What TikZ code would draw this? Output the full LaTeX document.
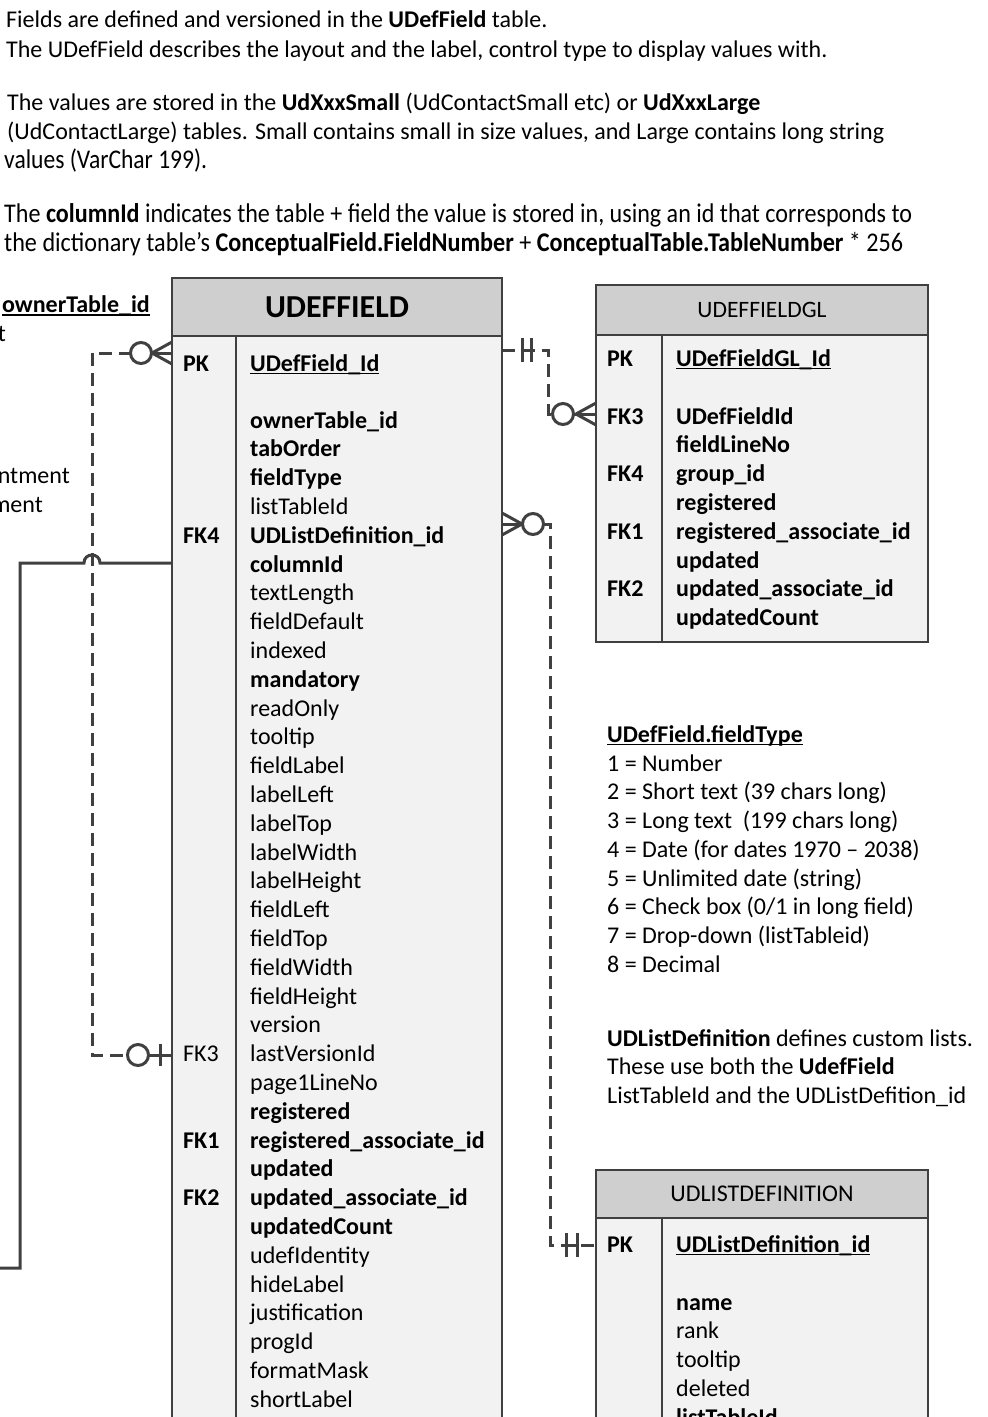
\documentclass[tikz,border=0pt]{standalone}
\usepackage{fontspec}
\setmainfont{Carlito}
\usepackage{graphicx}
\usetikzlibrary{calc}
\definecolor{ink}{HTML}{404040}
\definecolor{headfill}{HTML}{CFCFCF}
\definecolor{bodyfill}{HTML}{F2F2F2}
\newcommand\bodyfont{\fontsize{24}{28}\selectfont}
\newcommand\bigfont{\fontsize{32}{38}\selectfont}
\newcommand\glfont{\fontsize{23.5}{28}\selectfont}
\newcommand\tallfont{\fontsize{27}{32}\selectfont}
% underline sitting close under the baseline
\newcommand\myul[1]{\setbox0\hbox{#1}\rlap{\rule[-3.4pt]{\wd0}{1.7pt}}\box0}
% narrow a line of text to a given width, keeping its height
\newcommand\squeeze[2]{\resizebox{#1}{\height}{#2}}
\begin{document}
\begin{tikzpicture}[x=1pt,y=-1pt,
  txt/.style={anchor=base west, inner sep=0pt, font=\bodyfont, text=black},
  rtxt/.style={anchor=base east, inner sep=0pt, font=\bodyfont, text=black},
  frame/.style={draw=ink, line width=2.4pt, anchor=north west, inner sep=0pt, outer sep=0pt},
  tbody/.style={frame, fill=bodyfill},
  thead/.style={frame, fill=headfill, font=\glfont, text=black},
  sep/.style={draw=ink, line width=2.4pt},
  rel/.style={draw=ink, line width=3pt},
  reldash/.style={rel, dash pattern=on 13pt off 7pt},
  foot/.style={draw=ink, line width=3pt},
  ring/.style={circle, draw=ink, fill=white, line width=3pt, minimum size=21pt, inner sep=0pt}]
\useasboundingbox (0,0) rectangle (988,1417);
\clip (0,0) rectangle (988,1417);

% ---------- notes at the top ----------
\node[txt] (n1) at (6,27.5) {Fields are defined and versioned in the \textbf{UDefField} table.};
\node[txt] (n2) at (6,57) {The UDefField describes the layout and the label, control type to display values with.};
\node[txt] (n3) at (7,110) {The values are stored in the \textbf{UdXxxSmall} (UdContactSmall etc) or \textbf{UdXxxLarge}};
\node[txt] (n4) at (7,139) {(UdContactLarge) tables. Small contains small in size values, and Large contains long string};
\node[txt, font=\tallfont] (n5) at (4,168.5) {\squeeze{203pt}{values (VarChar 199).}};
\node[txt, font=\tallfont] (n6) at (4,222.5) {\squeeze{908pt}{The \textbf{columnId} indicates the table + field the value is stored in, using an id that corresponds to}};
\node[txt, font=\tallfont] (n7) at (4,251) {\squeeze{899pt}{the dictionary table’s \textbf{ConceptualField.FieldNumber} + \textbf{ConceptualTable.TableNumber} * 256}};

% ---------- fragments of a table further left ----------
\node[rtxt, font=\bodyfont\bfseries] (fragA) at (150,312.5) {\myul{ownerTable\_id}};
\node[rtxt] (fragB) at (6,341.5) {t};
\node[rtxt] (fragC) at (70,483.5) {ntment};
\node[rtxt] (fragD) at (43,512.5) {ment};

% ---------- UDEFFIELD ----------
\node[tbody, minimum width=330pt, minimum height=1180pt] (uf) at (172,278) {};
\node[thead, minimum width=330pt, minimum height=58pt, font=\bigfont\bfseries] (ufh) at (172,278) {UDEFFIELD};
\draw[sep] (236,336) -- (236,1460);

\node[txt, font=\bodyfont\bfseries] (ufkPK) at (183,371) {PK};
\node[txt, font=\bodyfont\bfseries] (ufPK) at (250,371) {\myul{UDefField\_Id}};
\foreach \t [count=\i from 0] in {
  \textbf{ownerTable\_id}, \textbf{tabOrder}, \textbf{fieldType}, listTableId,
  \textbf{UDListDefinition\_id}, \textbf{columnId}, textLength, fieldDefault,
  indexed, \textbf{mandatory}, readOnly, tooltip, fieldLabel, labelLeft,
  labelTop, labelWidth, labelHeight, fieldLeft, fieldTop, fieldWidth,
  fieldHeight, version, lastVersionId, page1LineNo, \textbf{registered},
  \textbf{registered\_associate\_id}, \textbf{updated},
  \textbf{updated\_associate\_id}, \textbf{updatedCount}, udefIdentity,
  hideLabel, justification, progId, formatMask, shortLabel}
  \node[txt] (uf-\i) at (250,428+28.8*\i) {\t};
\node[txt, font=\bodyfont\bfseries] (ufkFK4) at (183,543.2) {FK4};
\node[txt] (ufkFK3) at (183,1061.6) {FK3};
\node[txt, font=\bodyfont\bfseries] (ufkFK1) at (183,1148) {FK1};
\node[txt, font=\bodyfont\bfseries] (ufkFK2) at (183,1205.6) {FK2};

% ---------- UDEFFIELDGL ----------
\node[tbody, minimum width=332pt, minimum height=357pt] (gl) at (596,285) {};
\node[thead, minimum width=332pt, minimum height=50pt] (glh) at (596,285) {UDEFFIELDGL};
\draw[sep] (662,335) -- (662,642);
\node[txt, font=\bodyfont\bfseries] (glkPK) at (607,366) {PK};
\node[txt, font=\bodyfont\bfseries] (glPK) at (676,366) {\myul{UDefFieldGL\_Id}};
\foreach \t [count=\i from 0] in {UDefFieldId, fieldLineNo, group\_id, registered,
  registered\_associate\_id, updated, updated\_associate\_id, updatedCount}
  \node[txt, font=\bodyfont\bfseries] (gl-\i) at (676,424+28.8*\i) {\t};
\node[txt, font=\bodyfont\bfseries] (glkFK3) at (607,424) {FK3};
\node[txt, font=\bodyfont\bfseries] (glkFK4) at (607,481.6) {FK4};
\node[txt, font=\bodyfont\bfseries] (glkFK1) at (607,539.2) {FK1};
\node[txt, font=\bodyfont\bfseries] (glkFK2) at (607,596.8) {FK2};

% ---------- UDLISTDEFINITION ----------
\node[tbody, minimum width=332pt, minimum height=290pt] (ld) at (596,1170) {};
\node[thead, minimum width=332pt, minimum height=48pt, font=\bodyfont] (ldh) at (596,1170) {UDLISTDEFINITION};
\draw[sep] (662,1218) -- (662,1460);
\node[txt, font=\bodyfont\bfseries] (ldkPK) at (607,1252) {PK};
\node[txt, font=\bodyfont\bfseries] (ldPK) at (676,1252) {\myul{UDListDefinition\_id}};
\node[txt, font=\bodyfont\bfseries] (ld-0) at (676,1310) {name};
\node[txt] (ld-1) at (676,1338.8) {rank};
\node[txt] (ld-2) at (676,1367.6) {tooltip};
\node[txt] (ld-3) at (676,1396.4) {deleted};
\node[txt, font=\bodyfont\bfseries] (ld-4) at (676,1425.2) {listTableId};

% ---------- side notes ----------
\node[txt, font=\bodyfont\bfseries] (ftTitle) at (607,742) {\myul{UDefField.fieldType}};
\foreach \t [count=\i from 0] in {1 = Number, 2 = Short text (39 chars long),
  3 = Long text \ (199 chars long), 4 = Date (for dates 1970 – 2038),
  5 = Unlimited date (string), 6 = Check box (0/1 in long field),
  7 = Drop-down (listTableid), 8 = Decimal}
  \node[txt] (ft-\i) at (607,771+28.75*\i) {\t};

\node[txt] (ldn1) at (607,1046) {\textbf{UDListDefinition} defines custom lists.};
\node[txt] (ldn2) at (607,1074) {These use both the \textbf{UdefField}};
\node[txt] (ldn3) at (607,1103) {ListTableId and the UDListDefition\_id};

% ---------- connector end points ----------
\coordinate (ufSelfTop) at (172,353);
\coordinate (ufSelfBot) at (172,1055);
\coordinate (ufColW) at (172,563);
\coordinate (ufGlE) at (502,350);
\coordinate (ufLdE) at (502,524);
\coordinate (glIn) at (596,414);
\coordinate (ldIn) at (596,1245);
\coordinate (offLeft) at (-10,1268);
\coordinate (selfLane) at (92,0);
\coordinate (glLane) at (548,0);
\coordinate (ldLane) at (550,0);
\coordinate (colLane) at (20,0);
\coordinate (hopR) at ($(selfLane |- ufColW)+(8,0)$);
\coordinate (hopL) at ($(selfLane |- ufColW)+(-8,0)$);

% self reference: lastVersionId -> UDefField_Id
\draw[reldash] (ufSelfTop) -- (selfLane |- ufSelfTop) -- (selfLane |- ufSelfBot) -- (ufSelfBot);
% columnId leaving to the left, hopping over the dashed line
\draw[rel] (ufColW) -- (hopR) .. controls +(0,-10.7) and +(0,-10.7) .. (hopL)
  -- (colLane |- ufColW) -- (colLane |- offLeft) -- (offLeft);
% UDefField -> UDefFieldGL
\draw[reldash] (ufGlE) -- (glLane |- ufGlE) -- (glLane |- glIn) -- (glIn);
% UDefField -> UDListDefinition
\draw[reldash] (ufLdE) -- (ldLane |- ufLdE) -- (ldLane |- ldIn) -- (ldIn);

% ---------- end marks ----------
% many, at the top of the self reference
\draw[foot] ($(ufSelfTop)+(-31,0)$) -- (ufSelfTop);
\draw[foot] ($(ufSelfTop)+(-20,0)$) -- ($(ufSelfTop)+(0,-11)$);
\draw[foot] ($(ufSelfTop)+(-20,0)$) -- ($(ufSelfTop)+(0,11)$);
\node[ring] (rSelfTop) at ($(ufSelfTop)+(-31,0)$) {};
% zero or one, at the bottom of the self reference
\draw[foot] ($(ufSelfBot)+(-34,0)$) -- (ufSelfBot);
\draw[foot] ($(ufSelfBot)+(-12,-11)$) -- ($(ufSelfBot)+(-12,11)$);
\node[ring] (rSelfBot) at ($(ufSelfBot)+(-34,0)$) {};
% one and only one, UDefField side of UDefFieldGL
\draw[foot] ($(ufGlE)+(19,0)$) -- ($(ufGlE)+(30,0)$);
\draw[foot] ($(ufGlE)+(20,-12)$) -- ($(ufGlE)+(20,12)$);
\draw[foot] ($(ufGlE)+(29,-12)$) -- ($(ufGlE)+(29,12)$);
% zero or many, UDefFieldGL side
\draw[foot] ($(glIn)+(-33,0)$) -- (glIn);
\draw[foot] ($(glIn)+(-20,0)$) -- ($(glIn)+(0,-11)$);
\draw[foot] ($(glIn)+(-20,0)$) -- ($(glIn)+(0,11)$);
\node[ring] (rGl) at ($(glIn)+(-33,0)$) {};
% zero or many, UDefField side of UDListDefinition
\draw[foot] (ufLdE) -- ($(ufLdE)+(31,0)$);
\draw[foot] ($(ufLdE)+(20,0)$) -- ($(ufLdE)+(0,-11)$);
\draw[foot] ($(ufLdE)+(20,0)$) -- ($(ufLdE)+(0,11)$);
\node[ring] (rLd) at ($(ufLdE)+(31,0)$) {};
% one and only one, UDListDefinition side
\draw[foot] ($(ldIn)+(-31,0)$) -- ($(ldIn)+(-18,0)$);
\draw[foot] ($(ldIn)+(-30,-12)$) -- ($(ldIn)+(-30,12)$);
\draw[foot] ($(ldIn)+(-19,-12)$) -- ($(ldIn)+(-19,12)$);
\end{tikzpicture}
\end{document}
